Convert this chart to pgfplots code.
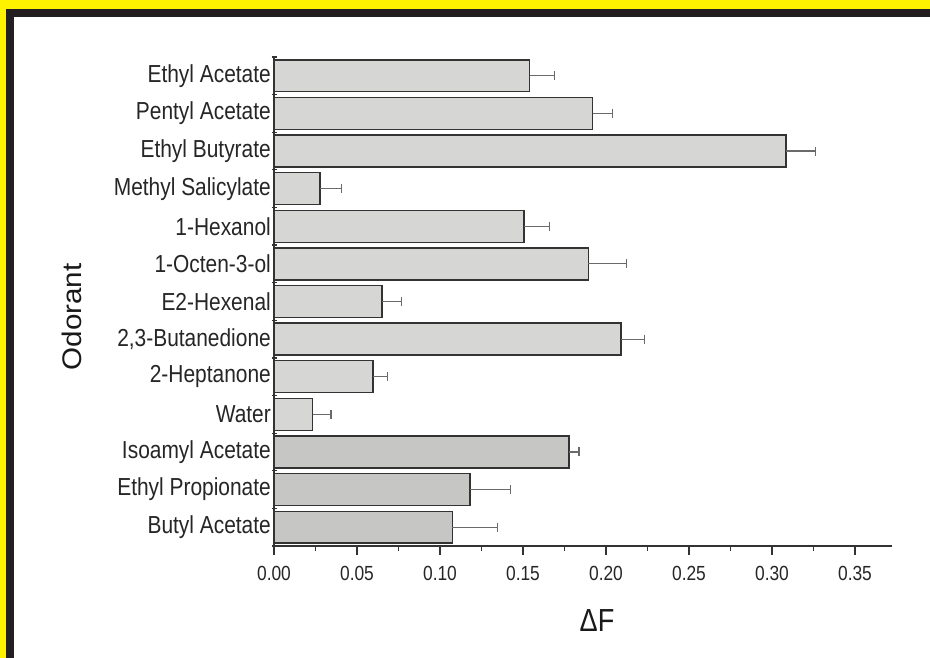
\documentclass[border=0pt]{standalone}
\usepackage{pgfplots}
\pgfplotsset{compat=1.18}
\usepackage{fontspec}
\setmainfont[FakeStretch=0.85]{Liberation Sans}
\newfontfamily\odfont[FakeStretch=1.1]{Liberation Sans}
\definecolor{barlight}{HTML}{D6D6D4}
\definecolor{bardark}{HTML}{C6C6C4}
\definecolor{edge}{HTML}{333333}
\definecolor{errc}{HTML}{6A6A6A}
\definecolor{frameyellow}{HTML}{FFF200}
\definecolor{framedark}{HTML}{231F20}
\begin{document}
\begin{tikzpicture}
\useasboundingbox (0,0) rectangle (930bp,658bp);
\fill[frameyellow] (0,0) rectangle (930bp,658bp);
\fill[framedark] (6bp,0) rectangle (930bp,649bp);
\fill[white] (14bp,0) rectangle (930bp,641bp);
\begin{axis}[
  at={(274bp,112bp)}, anchor=south west,
  scale only axis, width=618bp, height=489bp,
  xmin=0, xmax=0.3723, ymin=-0.5, ymax=12.5,
  axis lines*=left,
  axis line style={line width=1.6bp, color=edge},
  tick align=outside,
  major tick length=9bp, minor tick length=5bp,
  tick style={line width=1.3bp, color=edge},
  xtick={0,0.05,...,0.35}, minor x tick num=1,
  xticklabel style={/pgf/number format/fixed, /pgf/number format/fixed zerofill, /pgf/number format/precision=2, font=\fontsize{20.5}{22}\selectfont, text=black!85, yshift=-8bp},
  /pgf/number format/assume math mode=true,
  ytick={0,...,12},
  yticklabels={Butyl Acetate, Ethyl Propionate, Isoamyl Acetate, Water, 2-Heptanone, {2,3-Butanedione}, E2-Hexenal, 1-Octen-3-ol, 1-Hexanol, Methyl Salicylate, Ethyl Butyrate, Pentyl Acetate, Ethyl Acetate},
  yticklabel style={font=\fontsize{24.7}{26}\selectfont, text=black!85, inner sep=1bp, xshift=7bp},
  major y tick style={draw=none},
  minor ytick={-0.5,0.5,...,12.5},
  minor y tick style={xshift=2.5bp},
  xbar, bar width=0.85, bar shift=0pt,
  clip=false,
]
\addplot[fill=barlight, draw=edge, line width=1.4bp, bar shift=0pt,
  error bars/.cd, x dir=plus, x explicit,
  error mark=|,
  error bar style={line width=1.2bp, color=errc},
  error mark options={line width=1.2bp, color=errc, mark size=4.5bp}]
  coordinates {
  (0.1540,12) +- (0.0150,0)
  (0.1920,11) +- (0.0120,0)
  (0.3084,10) +- (0.0180,0)
  (0.0277,9)  +- (0.0130,0)
  (0.1506,8)  +- (0.0153,0)
  (0.1894,7)  +- (0.0230,0)
  (0.0650,6)  +- (0.0120,0)
  (0.2090,5)  +- (0.0140,0)
  (0.0597,4)  +- (0.0085,0)
  (0.0233,3)  +- (0.0110,0)
  };
\addplot[fill=bardark, draw=edge, line width=1.4bp, bar shift=0pt,
  error bars/.cd, x dir=plus, x explicit,
  error mark=|,
  error bar style={line width=1.2bp, color=errc},
  error mark options={line width=1.2bp, color=errc, mark size=4.5bp}]
  coordinates {
  (0.1777,2) +- (0.0060,0)
  (0.1180,1) +- (0.0246,0)
  (0.1074,0) +- (0.0270,0)
  };
\end{axis}
\node[text=black!90, font=\fontsize{32}{34}\selectfont] at (597bp,37bp) {ΔF};
\node[text=black!90, rotate=90, font=\odfont\fontsize{27}{29}\selectfont] at (72bp,341bp) {Odorant};
\end{tikzpicture}
\end{document}
